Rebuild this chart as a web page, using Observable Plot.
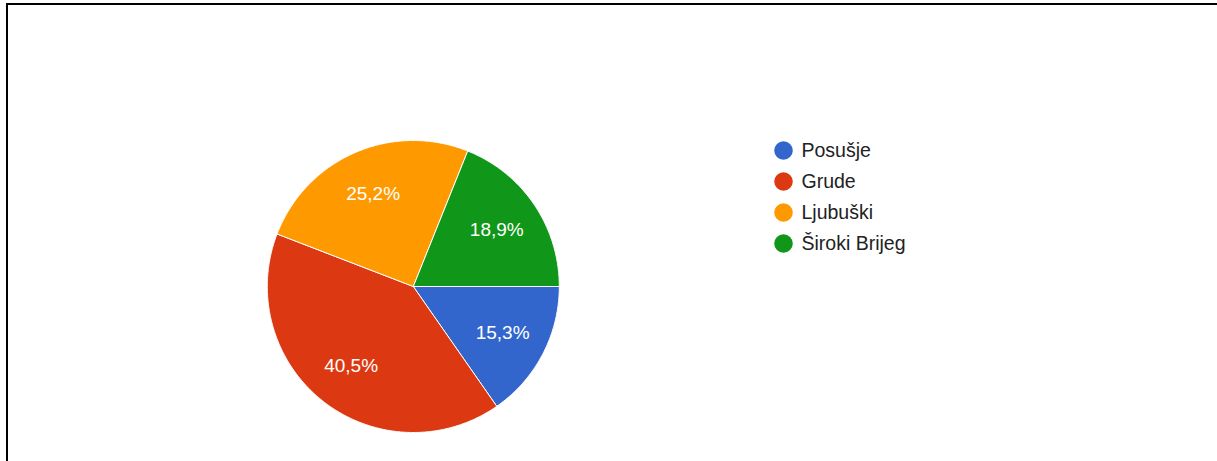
<!DOCTYPE html>
<html>
<head>
<meta charset="utf-8">
<script src="https://cdn.jsdelivr.net/npm/d3@7"></script>
<script src="https://cdn.jsdelivr.net/npm/@observablehq/plot@0.6"></script>
<style>
  html, body { margin: 0; padding: 0; background: #fff; overflow: hidden; }
  body { width: 1217px; height: 461px; position: relative; font-family: "Liberation Sans", Arial, sans-serif; }
  #frame { position: absolute; left: 6px; top: 3px; width: 1220px; height: 500px;
           border-left: 2px solid #000; border-top: 2px solid #000; box-sizing: border-box; }
  #pie { position: absolute; left: 0; top: 0; }
  #legend { position: absolute; left: 760px; top: 0; }
</style>
</head>
<body>
<div id="frame"></div>
<div id="pie"></div>
<div id="legend"></div>
<script>
// ---- data ----
const categories = ["Posušje", "Grude", "Ljubuški", "Široki Brijeg"];
const counts = [17, 45, 28, 21];
const colors = ["#3366cc", "#dc3912", "#ff9900", "#109618"];

// ---- derived slice geometry (clockwise from 3 o'clock) ----
const total = d3.sum(counts);
const slices = [];
let cum = 0;
categories.forEach((name, i) => {
  const f0 = cum / total, f1 = (cum + counts[i]) / total;
  cum += counts[i];
  slices.push({name, f0, f1, value: counts[i], share: counts[i] / total});
});
const polyPoints = [];
for (const s of slices) {
  polyPoints.push({name: s.name, x: 0, y: 0});
  const steps = Math.max(2, Math.ceil((s.f1 - s.f0) * 720));
  for (let k = 0; k <= steps; k++) {
    const f = s.f0 + (s.f1 - s.f0) * k / steps;
    const a = -2 * Math.PI * f;
    polyPoints.push({name: s.name, x: Math.cos(a), y: Math.sin(a)});
  }
  polyPoints.push({name: s.name, x: 0, y: 0});
}
const fmt = s => (s * 100).toFixed(1).replace(".", ",") + "%";
const labelR = 0.69;

const pie = Plot.plot({
  width: 760,
  height: 461,
  margin: 0,
  style: {fontFamily: "'Liberation Sans', Arial, sans-serif", background: "transparent"},
  x: {domain: [-1, 1], range: [266.8, 558.8], axis: null},
  y: {domain: [-1, 1], range: [432, 140], axis: null},
  color: {domain: categories, range: colors},
  marks: [
    Plot.line(polyPoints, {x: "x", y: "y", z: "name", fill: d => d.name, stroke: "white", strokeWidth: 1, curve: "linear"}),
    Plot.text(slices, {
      x: d => labelR * Math.cos(-Math.PI * (d.f0 + d.f1)),
      y: d => labelR * Math.sin(-Math.PI * (d.f0 + d.f1)),
      text: d => fmt(d.share),
      fill: "white",
      fontSize: 19
    })
  ]
});
document.getElementById("pie").appendChild(pie);

const legend = Plot.plot({
  width: 200,
  height: 300,
  margin: 0,
  style: {fontFamily: "'Liberation Sans', Arial, sans-serif", background: "transparent"},
  x: {domain: [0, 1], range: [23, 123], axis: null},
  y: {domain: categories, range: [149.5, 242.5], axis: null, type: "point", padding: 0},
  color: {domain: categories, range: colors},
  marks: [
    Plot.dot(categories, {x: () => 0, y: d => d, fill: d => d, r: 9.3}),
    Plot.text(categories, {x: () => 0, y: d => d, text: d => d, dx: 18, textAnchor: "start", fill: "#222", fontSize: 19.5})
  ]
});
document.getElementById("legend").appendChild(legend);
</script>
</body>
</html>
